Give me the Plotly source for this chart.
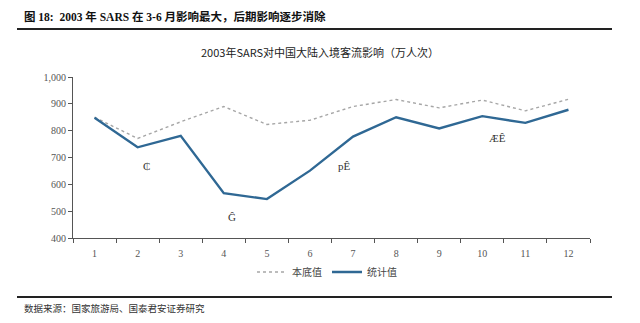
import plotly.graph_objects as go

months = [1, 2, 3, 4, 5, 6, 7, 8, 9, 10, 11, 12]
month_labels = [str(m) for m in months]
baseline = [850, 771, 833, 890, 823, 839, 890, 916, 885, 914, 874, 917]
actual = [848, 738, 781, 567, 545, 651, 778, 850, 808, 854, 829, 878]
y_ticks = [400, 500, 600, 700, 800, 900, 1000]

# garbled labels present in the source picture
odd_labels = ["₵", "Ĝ", "pÊ", "ÆÊ"]
odd_x = [2.2, 4.2, 6.8, 10.35]
odd_y = [670, 480, 670, 774]

W, H = 640, 323
L, R, T, B = 73, 50, 77, 85
plot_h = H - T - B
plot_w = W - L - R


def py(p):
    return (H - B - p) / plot_h


def px(p):
    return (p - L) / plot_w


serif = "Liberation Serif, Noto Sans CJK SC"
cjk = "Noto Sans CJK SC"

fig = go.Figure()
fig.add_trace(go.Scatter(x=months, y=baseline, mode="lines", name="本底值",
                         line=dict(color="#A6A6A6", width=1.4, dash="dot")))
fig.add_trace(go.Scatter(x=months, y=actual, mode="lines", name="统计值",
                         line=dict(color="#2F6894", width=2.4)))

for t, x, y in zip(odd_labels, odd_x, odd_y):
    fig.add_annotation(x=x, y=y, text=t, showarrow=False,
                       font=dict(family=serif, size=11, color="#333333"))

# header & footer
fig.add_annotation(xref="paper", yref="paper", x=px(22), y=py(17), xanchor="left",
                   yanchor="middle", showarrow=False,
                   text="<b>图 18:  2003 年 SARS 在 3-6 月影响最大，后期影响逐步消除</b>",
                   font=dict(family=serif, size=11.5, color="#111111"))
fig.add_annotation(xref="paper", yref="paper", x=px(320), y=py(52), xanchor="center",
                   yanchor="middle", showarrow=False,
                   text="2003年SARS对中国大陆入境客流影响（万人次）",
                   font=dict(family=cjk, size=11, color="#222222"))
fig.add_annotation(xref="paper", yref="paper", x=px(22), y=py(308), xanchor="left",
                   yanchor="middle", showarrow=False,
                   text="数据来源：国家旅游局、国泰君安证券研究",
                   font=dict(family=cjk, size=9.5, color="#333333"))
fig.add_shape(type="line", xref="paper", yref="paper", x0=px(17), x1=px(612),
              y0=py(29), y1=py(29), line=dict(color="#222222", width=2))
fig.add_shape(type="line", xref="paper", yref="paper", x0=px(17), x1=px(612),
              y0=py(297), y1=py(297), line=dict(color="#222222", width=2))

fig.update_layout(
    width=W, height=H,
    margin=dict(l=L, r=R, t=T, b=B),
    paper_bgcolor="white", plot_bgcolor="white",
    showlegend=True,
    legend=dict(orientation="h", x=px(252), y=py(272), xanchor="left", yanchor="middle",
                font=dict(family=cjk, size=10, color="#444444"),
                itemwidth=30, tracegroupgap=0, bgcolor="rgba(0,0,0,0)"),
    xaxis=dict(range=[0.5, 12.5], tickvals=months, ticktext=month_labels,
               ticks="", showgrid=False, zeroline=False, ticklabelstandoff=6,
               showline=True, linecolor="#555555", linewidth=1,
               tickfont=dict(family=serif, size=10, color="#555555"),
               minor=dict(tick0=0.5, dtick=1, ticks="outside", ticklen=4,
                          tickcolor="#555555", showgrid=False)),
    yaxis=dict(range=[400, 1000], tickvals=y_ticks, tickformat=",",
               ticks="outside", ticklen=4, tickcolor="#555555",
               showgrid=False, zeroline=False,
               showline=True, linecolor="#555555", linewidth=1,
               tickfont=dict(family=serif, size=10, color="#555555")),
)

fig.write_html("out.html")
